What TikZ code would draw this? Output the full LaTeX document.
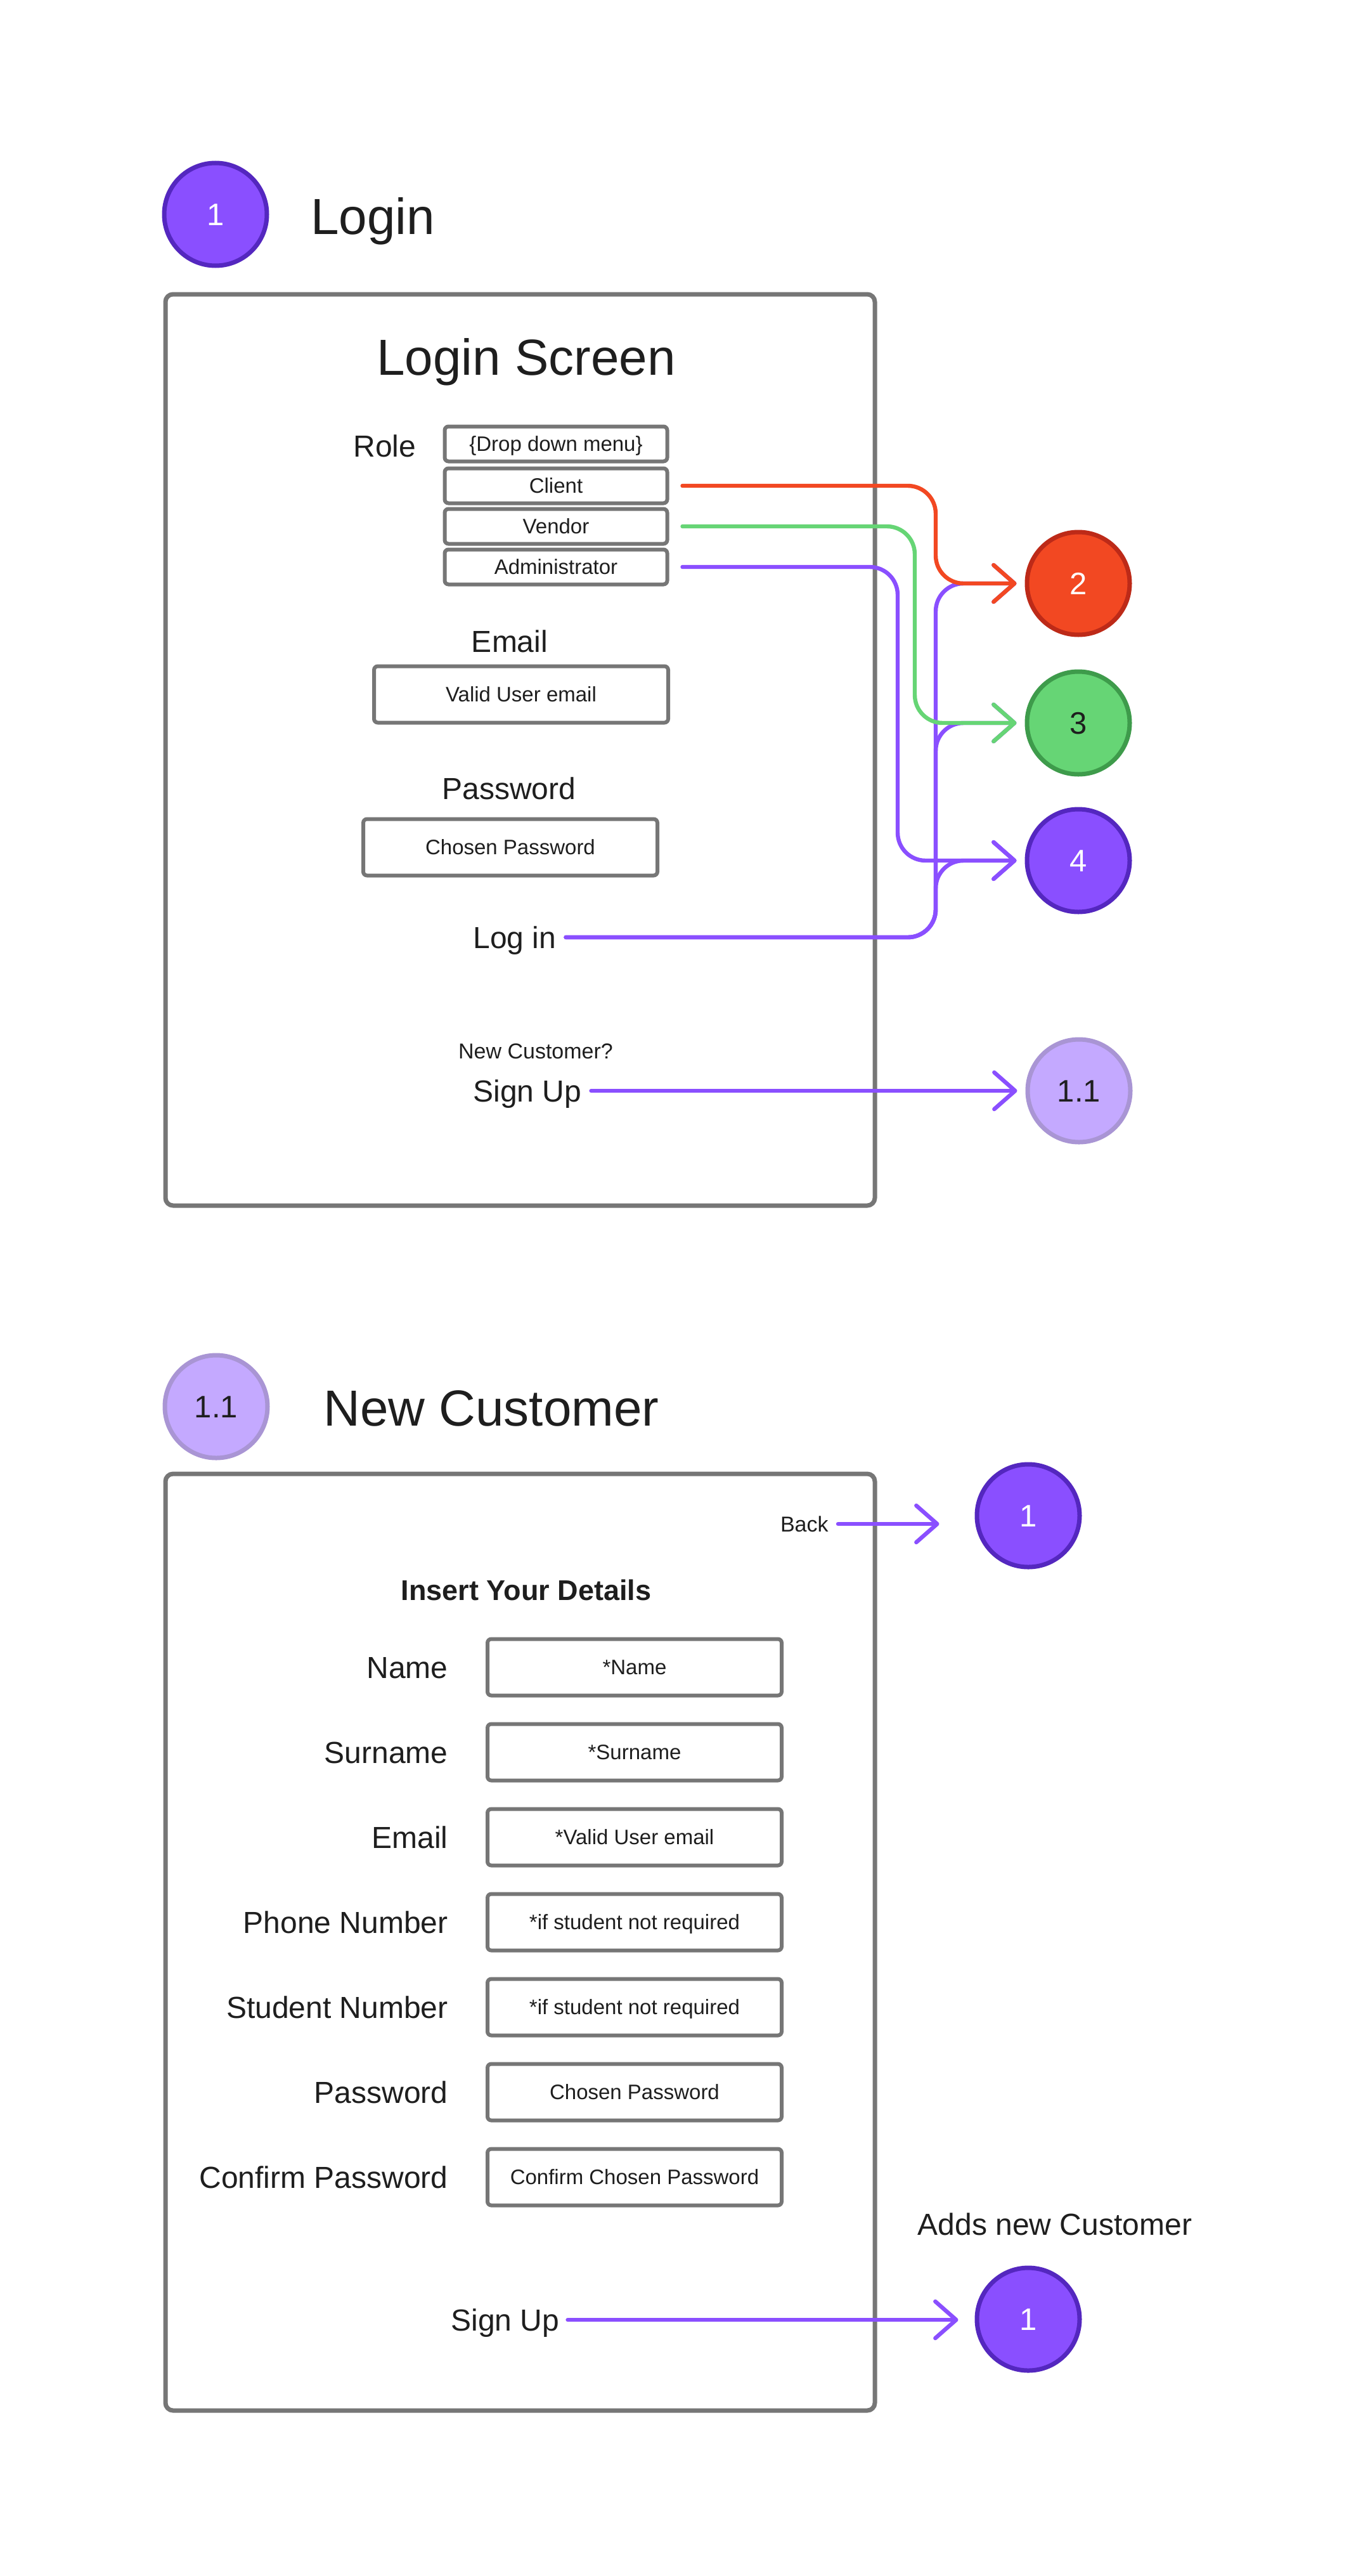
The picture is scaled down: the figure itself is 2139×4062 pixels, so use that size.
\documentclass[tikz,border=0pt]{standalone}
\usepackage{fontspec}
\setmainfont{Liberation Sans}
\usetikzlibrary{arrows.meta}
\definecolor{ink}{HTML}{1E1E1E}
\definecolor{boxgray}{HTML}{767676}
\definecolor{pfill}{HTML}{8A4FFF}
\definecolor{pstroke}{HTML}{5427BF}
\definecolor{rfill}{HTML}{F24822}
\definecolor{rstroke}{HTML}{BD2A18}
\definecolor{gfill}{HTML}{66D575}
\definecolor{gstroke}{HTML}{3E9B4B}
\definecolor{lfill}{HTML}{C4A9FF}
\definecolor{lstroke}{HTML}{A995D4}
\begin{document}
\begin{tikzpicture}[x=0.5pt,y=-0.5pt,
  txt/.style={inner sep=0pt, text=ink, text depth=0pt},
  titletext/.style={txt, font=\fontsize{40}{48}\selectfont, text height=28.6pt},
  lbl/.style={txt, font=\fontsize{24}{29}\selectfont, text height=17.2pt},
  smalltext/.style={txt, font=\fontsize{17}{20}\selectfont, text height=12.2pt},
  boldtext/.style={txt, font=\bfseries\fontsize{22.5}{27}\selectfont, text height=16.1pt},
  field/.style={draw=boxgray, line width=3pt, rounded corners=3pt, minimum width=232pt, minimum height=44.5pt, inner sep=0pt, text=ink, font=\fontsize{16.5}{20}\selectfont, text height=11.8pt, text depth=0pt},
  ddbox/.style={field, minimum width=175.5pt, minimum height=27.5pt},
  screen/.style={draw=boxgray, line width=3.5pt, rounded corners=6pt, inner sep=0pt},
  badge/.style={circle, line width=3.5pt, minimum size=81pt, inner sep=0pt, font=\fontsize{24.5}{29}\selectfont, text height=17.5pt, text depth=0pt},
  pbadge/.style={badge, fill=pfill, draw=pstroke, text=white},
  rbadge/.style={badge, fill=rfill, draw=rstroke, text=white},
  gbadge/.style={badge, fill=gfill, draw=gstroke, text=ink},
  lbadge/.style={badge, fill=lfill, draw=lstroke, text=ink},
  conn/.style={line width=3.2pt, line cap=round, line join=round, rounded corners=22pt, -{Straight Barb[length=16.5pt,width=29pt,round]}}
]
\fill[white] (0,0) rectangle (2139,4062);
\useasboundingbox (0,0) rectangle (2139,4062);

% ---------------- Section 1: Login ----------------
\node[pbadge] (t1) at (340,338) {1};
\node[titletext, anchor=west] (tlogin) at (490,341) {Login};
\node[screen, minimum width=559.5pt, minimum height=718.5pt] (scr1) at (820.5,1182.5) {};
\node[titletext] (lscreen) at (830,563) {Login Screen};

\node[lbl] (role) at (607,703) {Role};
\node[ddbox] (dd) at (877,700) {\{Drop down menu\}};
\node[ddbox] (client) at (877,766) {Client};
\node[ddbox] (vendor) at (877,830) {Vendor};
\node[ddbox] (admin) at (877,894) {Administrator};

\node[lbl] (emaillbl) at (804,1011) {Email};
\node[field] (emailbox) at (822,1095) {Valid User email};
\node[lbl] (pwlbl) at (803,1243) {Password};
\node[field] (pwbox) at (805,1336) {Chosen Password};

\node[lbl, anchor=west] (login) at (746,1478) {Log in};
\node[smalltext] (newcust) at (845,1657) {New Customer?};
\node[lbl, anchor=west] (signup1) at (746,1720) {Sign Up};

\node[rbadge] (c2) at (1701,920) {2};
\node[gbadge] (c3) at (1701,1140) {3};
\node[pbadge] (c4) at (1701,1357) {4};
\node[lbadge] (c11) at (1702,1720) {1.1};

\coordinate (bus) at (1476,0);
\coordinate (gx) at (1443,0);
\coordinate (ax) at (1416,0);

% Log in connectors (drawn first, underneath)
\draw[conn, pfill, shorten <=7.5pt, shorten >=6.5pt] (login.east) -- (login.east -| bus) -- (bus |- c4.west) -- (c4.west);
\draw[conn, pfill, shorten <=7.5pt, shorten >=6.5pt] (login.east) -- (login.east -| bus) -- (bus |- c3.west) -- (c3.west);
\draw[conn, pfill, shorten <=7.5pt, shorten >=6.5pt] (login.east) -- (login.east -| bus) -- (bus |- c2.west) -- (c2.west);

% Role connectors
\draw[conn, pfill, shorten <=10.5pt, shorten >=6.5pt] (admin.east) -- (admin.east -| ax) -- (ax |- c4.west) -- (c4.west);
\draw[conn, gfill, shorten <=10.5pt, shorten >=6.5pt] (vendor.east) -- (vendor.east -| gx) -- (gx |- c3.west) -- (c3.west);
\draw[conn, rfill, shorten <=10.5pt, shorten >=6.5pt] (client.east) -- (client.east -| bus) -- (bus |- c2.west) -- (c2.west);

\draw[conn, pfill, shorten <=7.5pt, shorten >=6.5pt] (signup1.east) -- (signup1.east -| c11.west);

% ---------------- Section 2: New Customer ----------------
\node[lbadge] (t11) at (341,2218) {1.1};
\node[titletext, anchor=west] (tnew) at (510,2220) {New Customer};
\node[screen, minimum width=559.5pt, minimum height=738.5pt] (scr2) at (820.5,3062.5) {};

\node[smalltext, anchor=east] (back) at (1307,2403) {Back};
\node[pbadge] (c1b) at (1622,2390) {1};
\draw[conn, pfill, shorten <=7.5pt, shorten >=28pt] (back.east) -- (back.east -| c1b.west);

\node[boldtext] (insert) at (830,2507) {Insert Your Details};

\foreach \nm/\lab/\val/\yy in {fname/Name/*Name/2629, fsurname/Surname/*Surname/2763, femail/Email/*Valid User email/2897, fphone/Phone Number/*if student not required/3031, fstudent/Student Number/*if student not required/3165, fpw/Password/Chosen Password/3299, fconfirm/Confirm Password/Confirm Chosen Password/3433}{
  \node[lbl, anchor=east] (\nm-l) at (707,\yy) {\lab};
  \node[field] (\nm-b) at (1001,\yy) {\val};
}

\node[lbl] (adds) at (1664,3507) {Adds new Customer};
\node[lbl, anchor=west] (signup2) at (711,3658) {Sign Up};
\node[pbadge] (c1c) at (1622,3657) {1};
\draw[conn, pfill, shorten <=6.5pt, shorten >=13pt] (signup2.east) -- (signup2.east -| c1c.west);

\end{tikzpicture}
\end{document}
